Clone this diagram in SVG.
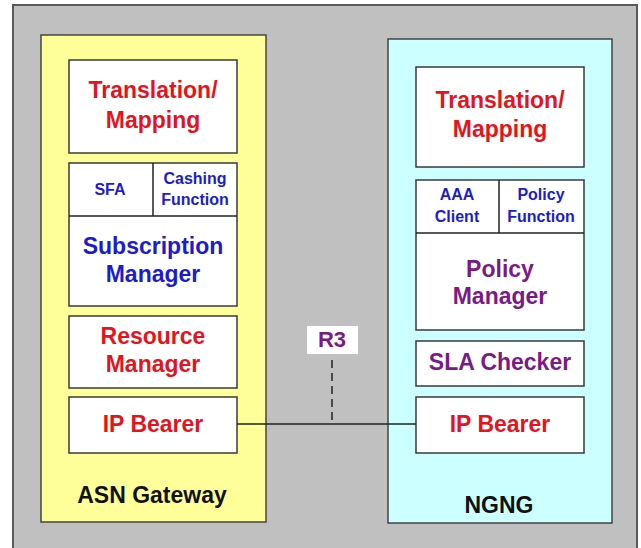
<svg xmlns="http://www.w3.org/2000/svg" width="641" height="548" viewBox="0 0 641 548">
<style>
text{font-family:"Liberation Sans",Arial,sans-serif;font-weight:bold;text-anchor:middle}
.box{fill:#ffffff;stroke:#3a3a3a;stroke-width:1.5}
.red{fill:#e3141e;font-size:23px}
.blue{fill:#1c1ccc;font-size:23px}
.sblue{fill:#1c1ccc;font-size:16px}
.purple{fill:#7a1a86;font-size:23px}
.black{fill:#111111;font-size:23px}
</style>
<rect x="13" y="5" width="624" height="560" fill="#c0c0c0" stroke="#5a5a5a" stroke-width="2"/>
<g id="asn-gateway">
<rect x="41" y="35" width="225" height="487" fill="#ffff99" stroke="#444" stroke-width="1.5"/>
<text class="black" x="152" y="503">ASN Gateway</text>
</g>
<g id="ngng">
<rect x="388" y="39" width="224" height="484" fill="#ccffff" stroke="#444" stroke-width="1.5"/>
<text class="black" x="499" y="513">NGNG</text>
</g>
<g id="asn-translation">
<rect class="box" x="69" y="60" width="168" height="93"/>
<text class="red" x="153" y="98">Translation/</text>
<text class="red" x="153" y="128">Mapping</text>
</g>
<g id="asn-subscription">
<rect class="box" x="69" y="163" width="168" height="143"/>
<line x1="69" y1="216" x2="237" y2="216" stroke="#222" stroke-width="1.5"/>
<line x1="153" y1="163" x2="153" y2="216" stroke="#222" stroke-width="1.5"/>
<text class="sblue" x="110" y="195">SFA</text>
<text class="sblue" x="195" y="184">Cashing</text>
<text class="sblue" x="195" y="205">Function</text>
<text class="blue" x="153" y="254">Subscription</text>
<text class="blue" x="153" y="282">Manager</text>
</g>
<g id="asn-resource">
<rect class="box" x="69" y="316" width="168" height="72"/>
<text class="red" x="153" y="344">Resource</text>
<text class="red" x="153" y="372">Manager</text>
</g>
<g id="asn-ipbearer">
<rect class="box" x="69" y="397" width="168" height="56"/>
<text class="red" x="153" y="432">IP Bearer</text>
</g>
<g id="ngng-translation">
<rect class="box" x="416" y="67" width="168" height="100"/>
<text class="red" x="500" y="108">Translation/</text>
<text class="red" x="500" y="137">Mapping</text>
</g>
<g id="ngng-policy">
<rect class="box" x="416" y="180" width="168" height="150"/>
<line x1="416" y1="233" x2="584" y2="233" stroke="#222" stroke-width="1.5"/>
<line x1="499" y1="180" x2="499" y2="233" stroke="#222" stroke-width="1.5"/>
<text class="sblue" x="457" y="200">AAA</text>
<text class="sblue" x="457" y="222">Client</text>
<text class="sblue" x="541" y="200">Policy</text>
<text class="sblue" x="541" y="222">Function</text>
<text class="purple" x="500" y="277">Policy</text>
<text class="purple" x="500" y="304">Manager</text>
</g>
<g id="ngng-sla">
<rect class="box" x="416" y="341" width="168" height="45"/>
<text class="purple" x="500" y="370">SLA Checker</text>
</g>
<g id="ngng-ipbearer">
<rect class="box" x="416" y="397" width="168" height="56"/>
<text class="red" x="500" y="432">IP Bearer</text>
</g>
<g id="connectors">
<line x1="237" y1="424" x2="416" y2="424" stroke="#222" stroke-width="1.5"/>
<line x1="332" y1="360" x2="332" y2="424" stroke="#222" stroke-width="1.5" stroke-dasharray="8,5"/>
</g>
<g id="r3">
<rect x="307" y="326" width="51" height="28" fill="#ffffff"/>
<text class="purple" x="332" y="347" style="font-size:22px">R3</text>
</g>
</svg>
